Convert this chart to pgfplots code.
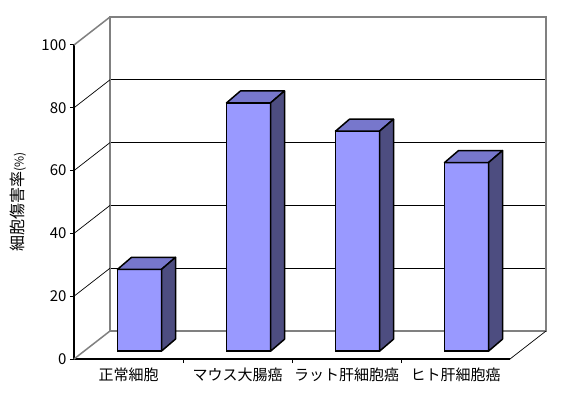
\documentclass[border=0pt]{standalone}
\usepackage{pgfplots}
\pgfplotsset{compat=1.18}
\usepackage{pgfplotstable}
\usepackage{fontspec}
\setmainfont{Noto Sans CJK JP}
\definecolor{frontc}{HTML}{9999FF}
\definecolor{topc}{HTML}{7777CC}
\definecolor{sidec}{HTML}{4D4D80}
\definecolor{wallgray}{HTML}{808080}

\pgfplotstableread{
x v
0.5 26
1.5 79
2.5 70
3.5 60
}\data

% top and side faces of a bar; \ry is the bar's value
\pgfdeclareplotmark{cuboid}{%
  \pgfmathsetmacro\h{\ry*3.143}%
  \pgfsetlinewidth{1.5pt}%
  \pgfsetstrokecolor{black}%
  \pgfsetroundjoin
  \pgfsetfillcolor{topc}%
  \pgfpathmoveto{\pgfpoint{-22pt}{0pt}}%
  \pgfpathlineto{\pgfpoint{22pt}{0pt}}%
  \pgfpathlineto{\pgfpoint{36pt}{12pt}}%
  \pgfpathlineto{\pgfpoint{-8pt}{12pt}}%
  \pgfpathclose
  \pgfusepath{fill,stroke}%
  \pgfsetfillcolor{sidec}%
  \pgfpathmoveto{\pgfpoint{22pt}{0pt}}%
  \pgfpathlineto{\pgfpoint{36pt}{12pt}}%
  \pgfpathlineto{\pgfpoint{36pt}{12pt-\h pt}}%
  \pgfpathlineto{\pgfpoint{22pt}{-\h pt}}%
  \pgfpathclose
  \pgfusepath{fill,stroke}%
}

\begin{document}
\begin{tikzpicture}
\path (0,0) rectangle (561pt,393pt);
% back wall
\begin{axis}[
  at={(110pt,62pt)}, anchor=south west,
  scale only axis, width=436pt, height=314pt,
  xmin=0, xmax=4, ymin=0, ymax=100,
  axis line style={wallgray, line width=1.5pt},
  xtick=\empty, ytick={20,40,60,80}, yticklabels={},
  major tick length=0pt,
  ymajorgrids, grid style={black, line width=0.7pt},
]
\end{axis}
% front plane: axes, ticks, labels, wall edges
\begin{axis}[
  at={(74pt,34pt)}, anchor=south west,
  scale only axis, width=436pt, height=314pt,
  xmin=0, xmax=4, ymin=0, ymax=100,
  clip=false,
  axis x line*=bottom, axis y line*=left,
  axis line style={black, line width=1.2pt},
  ytick={0,20,40,60,80,100},
  xtick={0.5,1.5,2.5,3.5},
  xticklabels={正常細胞, マウス大腸癌, ラット肝細胞癌, ヒト肝細胞癌},
  minor xtick={1,2,3},
  x tick style={line width=1pt, black},
  y tick style={line width=1pt, black},
  major x tick style={draw=none},
  tick align=outside,
  major tick length=4pt, minor tick length=4pt,
  /pgf/number format/assume math mode=true,
  tick label style={font=\fontsize{15}{18}\selectfont},
  xticklabel style={yshift=-1pt},
  ylabel={細胞傷害率{\fontsize{12}{14}\selectfont(\%)}},
  every axis y label/.style={at={(axis description cs:-0.1284,0.5)}, rotate=90, anchor=center, font=\fontsize{16}{18}\selectfont},
]
\foreach \g in {20,40,60,80} {
  \edef\tmp{\noexpand\draw[black, line width=0.7pt] (axis cs:0,\g) -- ++(36pt,28pt);}\tmp
}
\draw[wallgray, line width=1.5pt] (axis cs:0,100) -- ++(36pt,28pt);
\draw[wallgray, line width=1.5pt] (axis cs:0,0) -- ++(36pt,28pt);
\draw[black, line width=0.7pt] (axis cs:4,0) -- ++(36pt,28pt);
\end{axis}
% bars
\begin{axis}[
  at={(85pt,42pt)}, anchor=south west,
  scale only axis, width=436pt, height=314pt,
  xmin=0, xmax=4, ymin=0, ymax=100,
  hide axis, clip=false,
]
\addplot[ybar, bar width=44pt, fill=frontc, draw=black, line width=1.5pt] table[x=x, y=v] {\data};
\addplot[only marks, mark=cuboid, visualization depends on={rawy \as \ry}] table[x=x, y=v] {\data};
\end{axis}
\end{tikzpicture}
\end{document}
